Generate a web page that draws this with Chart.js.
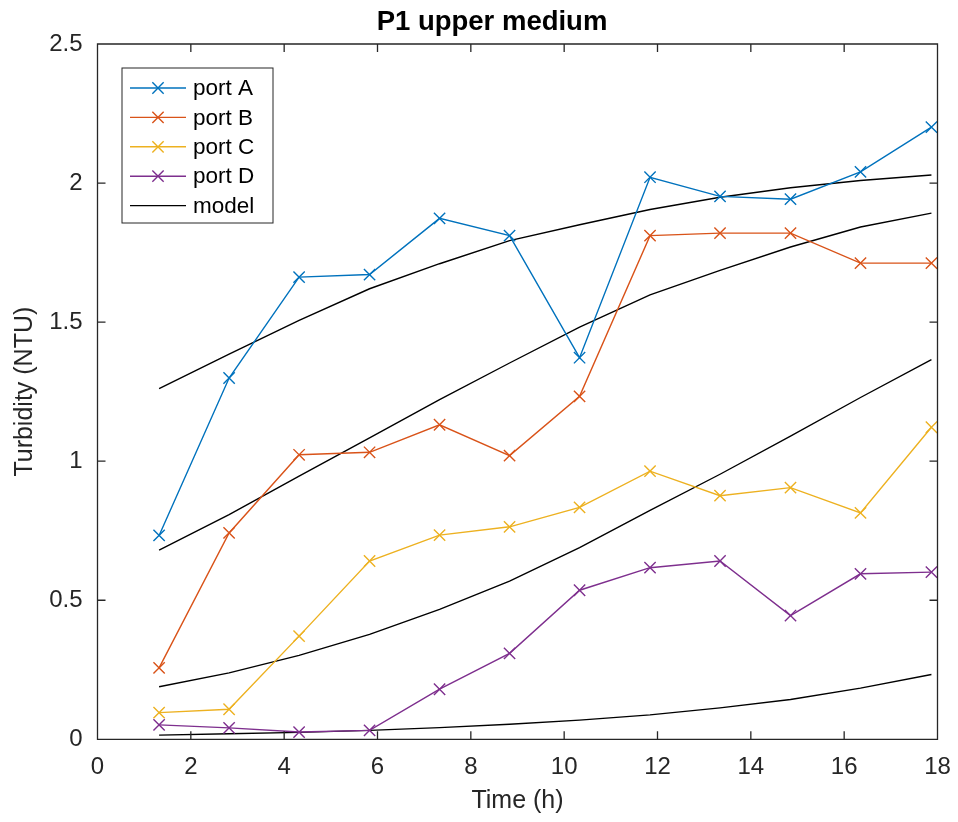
<!DOCTYPE html>
<html>
<head>
<meta charset="utf-8">
<script src="https://cdn.jsdelivr.net/npm/chart.js@4.4.1/dist/chart.umd.min.js"></script>
<style>
  html, body { margin: 0; padding: 0; background: #fff; }
  canvas { display: block; }
</style>
</head>
<body>
<canvas id="chart" width="958" height="822"></canvas>
<script>
// sampling times (h)
const times = [1.32, 2.82, 4.32, 5.83, 7.33, 8.83, 10.33, 11.84, 13.34, 14.85, 16.35, 17.87];

// measured turbidity (NTU)
const portA = [0.733, 1.299, 1.662, 1.671, 1.873, 1.811, 1.372, 2.021, 1.952, 1.942, 2.040, 2.201];
const portB = [0.257, 0.742, 1.023, 1.032, 1.131, 1.020, 1.233, 1.811, 1.820, 1.820, 1.712, 1.712];
const portC = [0.096, 0.108, 0.371, 0.641, 0.734, 0.764, 0.834, 0.964, 0.876, 0.905, 0.814, 1.122];
const portD = [0.052, 0.041, 0.026, 0.032, 0.180, 0.309, 0.536, 0.617, 0.641, 0.445, 0.595, 0.601];

// model curves, one per port
const modelA = [1.261, 1.385, 1.506, 1.620, 1.710, 1.793, 1.850, 1.905, 1.949, 1.983, 2.009, 2.029];
const modelB = [0.680, 0.808, 0.946, 1.084, 1.221, 1.353, 1.482, 1.598, 1.686, 1.770, 1.842, 1.892];
const modelC = [0.189, 0.239, 0.302, 0.377, 0.467, 0.569, 0.689, 0.823, 0.953, 1.090, 1.229, 1.365];
const modelD = [0.015, 0.020, 0.025, 0.032, 0.042, 0.054, 0.069, 0.088, 0.113, 0.143, 0.184, 0.233];

const xTicks = [0, 2, 4, 6, 8, 10, 12, 14, 16, 18];
const yTicks = [0, 0.5, 1, 1.5, 2, 2.5];

const COLORS = {
  A: "#0072BD",
  B: "#D95319",
  C: "#EDB120",
  D: "#7E2F8E",
  model: "#000000",
  axis: "#262626",
};
const FONT = "'Liberation Sans', Arial, Helvetica, sans-serif";
const MARKER_R = 8;

const toPoints = (ys) => times.map((t, i) => ({ x: t, y: ys[i] }));

const portSet = (label, ys, color) => ({
  label,
  data: toPoints(ys),
  borderColor: color,
  backgroundColor: color,
  borderWidth: 1.4,
  pointStyle: "crossRot",
  pointRadius: MARKER_R,
  pointBorderWidth: 1.4,
  pointHoverRadius: MARKER_R,
  tension: 0,
  inLegend: true,
});

const modelSet = (ys, first) => ({
  label: "model",
  data: toPoints(ys),
  borderColor: COLORS.model,
  backgroundColor: COLORS.model,
  borderWidth: 1.4,
  pointRadius: 0,
  tension: 0,
  inLegend: first,
});

const datasets = [
  portSet("port A", portA, COLORS.A),
  portSet("port B", portB, COLORS.B),
  portSet("port C", portC, COLORS.C),
  portSet("port D", portD, COLORS.D),
  modelSet(modelA, true),
  modelSet(modelB, false),
  modelSet(modelC, false),
  modelSet(modelD, false),
];

// title over the plot
const titlePlugin = {
  id: "matTitle",
  afterDraw(chart) {
    const ctx = chart.ctx;
    ctx.save();
    ctx.fillStyle = "#000";
    ctx.font = "bold 27.5px " + FONT;
    ctx.textAlign = "center";
    ctx.textBaseline = "alphabetic";
    ctx.fillText("P1 upper medium", 492, 30);
    ctx.restore();
  },
};

// box around the axes with inward ticks on all four sides
const framePlugin = {
  id: "matFrame",
  afterDatasetsDraw(chart) {
    const { ctx, chartArea: a, scales } = chart;
    const len = 8;
    ctx.save();
    ctx.strokeStyle = COLORS.axis;
    ctx.lineWidth = 1.3;
    ctx.beginPath();
    ctx.rect(a.left, a.top, a.right - a.left, a.bottom - a.top);
    xTicks.forEach((v) => {
      const px = scales.x.getPixelForValue(v);
      ctx.moveTo(px, a.bottom);
      ctx.lineTo(px, a.bottom - len);
      ctx.moveTo(px, a.top);
      ctx.lineTo(px, a.top + len);
    });
    yTicks.forEach((v) => {
      const py = scales.y.getPixelForValue(v);
      ctx.moveTo(a.left, py);
      ctx.lineTo(a.left + len, py);
      ctx.moveTo(a.right, py);
      ctx.lineTo(a.right - len, py);
    });
    ctx.stroke();
    ctx.restore();
  },
};

// legend drawn inside the axes, line plus marker like the original
const legendPlugin = {
  id: "matLegend",
  afterDraw(chart) {
    const { ctx, chartArea: a } = chart;
    const items = chart.data.datasets.filter((d) => d.inLegend);
    const left = a.left + 24.5;
    const top = a.top + 24;
    const w = 151;
    const rowH = 29.4;
    const h = 155;
    ctx.save();
    ctx.fillStyle = "#fff";
    ctx.fillRect(left, top, w, h);
    ctx.strokeStyle = COLORS.axis;
    ctx.lineWidth = 1;
    ctx.strokeRect(left, top, w, h);

    items.forEach((d, i) => {
      const y = top + 20 + i * rowH;
      ctx.strokeStyle = d.borderColor;
      ctx.lineWidth = 1.4;
      ctx.beginPath();
      ctx.moveTo(left + 8, y);
      ctx.lineTo(left + 64, y);
      ctx.stroke();
      if (d.pointRadius > 0) {
        const r = MARKER_R * Math.SQRT1_2;
        const cx = left + 36;
        ctx.beginPath();
        ctx.moveTo(cx - r, y - r);
        ctx.lineTo(cx + r, y + r);
        ctx.moveTo(cx - r, y + r);
        ctx.lineTo(cx + r, y - r);
        ctx.stroke();
      }
      ctx.fillStyle = "#000";
      ctx.font = "22.5px " + FONT;
      ctx.textAlign = "left";
      ctx.textBaseline = "middle";
      ctx.fillText(d.label, left + 71, y + 1);
    });
    ctx.restore();
  },
};

new Chart(document.getElementById("chart"), {
  type: "line",
  data: { datasets },
  plugins: [titlePlugin, framePlugin, legendPlugin],
  options: {
    responsive: false,
    devicePixelRatio: 1,
    animation: false,
    events: [],
    layout: { padding: { top: 44, right: 20.5, bottom: 0, left: 0 } },
    plugins: {
      legend: { display: false },
      title: { display: false },
      tooltip: { enabled: false },
    },
    scales: {
      x: {
        type: "linear",
        min: 0,
        max: 18,
        grid: { display: false, drawTicks: false },
        border: { display: false },
        afterBuildTicks: (scale) => {
          scale.ticks = xTicks.map((v) => ({ value: v }));
        },
        afterFit: (scale) => {
          scale.height = 82.7;
          scale.paddingLeft = 0;
          scale.paddingRight = 0;
        },
        ticks: {
          color: COLORS.axis,
          padding: 14,
          maxRotation: 0,
          callback: (v) => String(v),
          font: { family: FONT, size: 24 },
        },
        title: {
          display: true,
          text: "Time (h)",
          color: COLORS.axis,
          padding: 6,
          font: { family: FONT, size: 25 },
        },
      },
      y: {
        type: "linear",
        min: 0,
        max: 2.5,
        grid: { display: false, drawTicks: false },
        border: { display: false },
        afterBuildTicks: (scale) => {
          scale.ticks = yTicks.map((v) => ({ value: v }));
        },
        afterFit: (scale) => {
          scale.width = 97.5;
        },
        ticks: {
          color: COLORS.axis,
          padding: 15,
          callback: (v) => String(v),
          font: { family: FONT, size: 24 },
        },
        title: {
          display: true,
          text: "Turbidity (NTU)",
          color: COLORS.axis,
          padding: 10,
          font: { family: FONT, size: 25 },
        },
      },
    },
  },
});
</script>
</body>
</html>
